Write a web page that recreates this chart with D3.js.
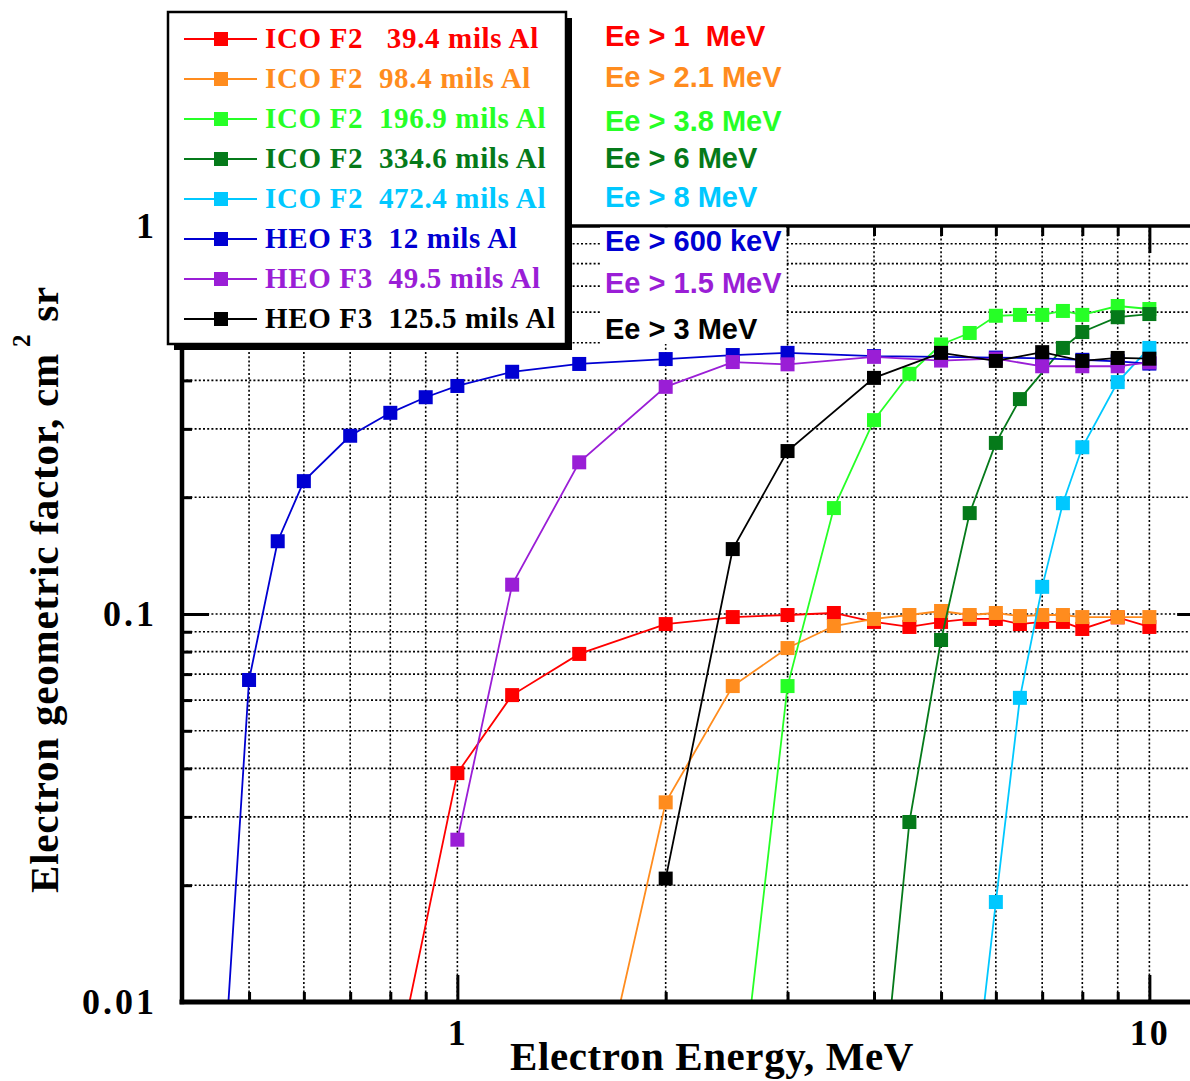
<!DOCTYPE html>
<html>
<head>
<meta charset="utf-8">
<script src="https://cdn.jsdelivr.net/npm/d3@7"></script>
<style>
  html, body { margin: 0; padding: 0; background: #fff; }
  svg { display: block; }
  text { white-space: pre; }
</style>
</head>
<body>
<svg id="chart" width="1190" height="1081"></svg>
<script>
// ---- Data: electron geometric factor (cm^2 sr) vs electron energy (MeV) ----
const ico394E = [0.8, 1, 1.2, 1.5, 2, 2.5, 3, 3.5, 4, 4.5, 5, 5.5, 6, 6.5, 7, 7.5, 8, 9, 10];
const ico394G = [0.0058, 0.0389, 0.0618, 0.0789, 0.0942, 0.0982, 0.0994, 0.1006, 0.0954, 0.0926, 0.0954, 0.0971, 0.0971, 0.0942, 0.0954, 0.0954, 0.0915, 0.0980, 0.0926];

const ico984E = [1.5, 2, 2.5, 3, 3.5, 4, 4.5, 5, 5.5, 6, 6.5, 7, 7.5, 8, 9, 10];
const ico984G = [0.0034, 0.0327, 0.0652, 0.0817, 0.0931, 0.0971, 0.0994, 0.1018, 0.0994, 0.1006, 0.0988, 0.0994, 0.0994, 0.0982, 0.0982, 0.0982];

const ico1969E = [2.5, 3, 3.5, 4, 4.5, 5, 5.5, 6, 6.5, 7, 7.5, 8, 9, 10];
const ico1969G = [0.0038, 0.0652, 0.1875, 0.316, 0.416, 0.495, 0.530, 0.587, 0.590, 0.590, 0.604, 0.590, 0.622, 0.611];

const ico3346E = [4, 4.5, 5, 5.5, 6, 6.5, 7.5, 8, 9, 10];
const ico3346G = [0.0035, 0.0291, 0.0857, 0.182, 0.276, 0.358, 0.485, 0.533, 0.582, 0.593];

const ico4724E = [5.5, 6, 6.5, 7, 7.5, 8, 9, 10];
const ico4724G = [0.0047, 0.0181, 0.0608, 0.1175, 0.193, 0.269, 0.396, 0.485];

const heo12E = [0.45, 0.5, 0.55, 0.6, 0.7, 0.8, 0.9, 1, 1.2, 1.5, 2, 2.5, 3, 4, 5, 6, 7, 8, 9, 10];
const heo12G = [0.0036, 0.0676, 0.154, 0.220, 0.288, 0.330, 0.362, 0.387, 0.421, 0.441, 0.454, 0.465, 0.471, 0.462, 0.460, 0.458, 0.456, 0.452, 0.448, 0.442];

const heo495E = [1, 1.2, 1.5, 2, 2.5, 3, 4, 5, 6, 7, 8, 9, 10];
const heo495G = [0.0262, 0.119, 0.246, 0.385, 0.446, 0.440, 0.460, 0.450, 0.455, 0.435, 0.435, 0.435, 0.445];

const heo1255E = [2, 2.5, 3, 4, 5, 6, 7, 8, 9, 10];
const heo1255G = [0.0208, 0.147, 0.263, 0.406, 0.471, 0.449, 0.473, 0.449, 0.457, 0.455];

const legendLabels = [
  "ICO F2   39.4 mils Al",
  "ICO F2  98.4 mils Al",
  "ICO F2  196.9 mils Al",
  "ICO F2  334.6 mils Al",
  "ICO F2  472.4 mils Al",
  "HEO F3  12 mils Al",
  "HEO F3  49.5 mils Al",
  "HEO F3  125.5 mils Al"
];
const thresholdLabels = [
  "Ee > 1  MeV", "Ee > 2.1 MeV", "Ee > 3.8 MeV", "Ee > 6 MeV",
  "Ee > 8 MeV", "Ee > 600 keV", "Ee > 1.5 MeV", "Ee > 3 MeV"
];

const xTickLabels = [1, 10];
const yTickLabels = ["0.01", "0.1", "1"];
const xTitle = "Electron Energy, MeV";
const yTitle = "Electron geometric factor, cm";

// ---- Styles ----
const colors = ["#ff0000", "#ff8c1e", "#26ff26", "#057a1a", "#00c8ff", "#0000d2", "#9a1ed6", "#000000"];

const series = [
  [ico394E, ico394G], [ico984E, ico984G], [ico1969E, ico1969G], [ico3346E, ico3346G],
  [ico4724E, ico4724G], [heo12E, heo12G], [heo495E, heo495G], [heo1255E, heo1255G]
].map(([e, g], i) => ({
  label: legendLabels[i],
  threshold: thresholdLabels[i],
  color: colors[i],
  points: e.map((v, k) => ({ e: v, g: g[k] }))
}));

// ---- Layout ----
const W = 1190, H = 1081;
const plotLeft = 182, plotTop = 226, plotBottom = 1002;
const decadePx = 692;
const xMin = 0.4, xMax = 12;
const plotRight = plotLeft + decadePx * Math.log10(xMax / xMin);

const x = d3.scaleLog().domain([xMin, xMax]).range([plotLeft, plotRight]);
const y = d3.scaleLog().domain([0.01, 1]).range([plotBottom, plotTop]);

const xMinor = [0.5, 0.6, 0.7, 0.8, 0.9, 2, 3, 4, 5, 6, 7, 8, 9];
const xMajor = [1, 10];
const yMinor = [0.02, 0.03, 0.04, 0.05, 0.06, 0.07, 0.08, 0.09, 0.2, 0.3, 0.4, 0.5, 0.6, 0.7, 0.8, 0.9];
const yMajor = [0.1];

const svg = d3.select("#chart");
svg.append("rect").attr("width", W).attr("height", H).attr("fill", "#fff");

svg.append("defs").append("clipPath").attr("id", "plot-clip")
  .append("rect")
  .attr("x", plotLeft).attr("y", plotTop)
  .attr("width", plotRight - plotLeft).attr("height", plotBottom - plotTop);

// ---- Dotted grid ----
const grid = svg.append("g")
  .attr("stroke", "#000").attr("stroke-width", 1.6)
  .attr("stroke-dasharray", "2,2.2");

grid.selectAll("line.gx").data(xMinor.concat(xMajor)).join("line")
  .attr("class", "gx")
  .attr("x1", d => x(d)).attr("x2", d => x(d))
  .attr("y1", plotTop).attr("y2", plotBottom);

grid.selectAll("line.gy").data(yMinor.concat(yMajor)).join("line")
  .attr("class", "gy")
  .attr("x1", plotLeft).attr("x2", plotRight)
  .attr("y1", d => y(d)).attr("y2", d => y(d));

// ---- Series ----
const line = d3.line().x(d => x(d.e)).y(d => y(d.g));
const plot = svg.append("g").attr("clip-path", "url(#plot-clip)");

const sg = plot.selectAll("g.series").data(series).join("g").attr("class", "series");
sg.append("path")
  .attr("d", d => line(d.points))
  .attr("fill", "none")
  .attr("stroke", d => d.color)
  .attr("stroke-width", 1.8);

const M = 14;
sg.selectAll("rect").data(d => d.points.map(p => ({ ...p, color: d.color }))).join("rect")
  .attr("x", d => x(d.e) - M / 2)
  .attr("y", d => y(d.g) - M / 2)
  .attr("width", M).attr("height", M)
  .attr("fill", d => d.color);

// ---- Axes ticks ----
function styleTicks(g, w) {
  g.select(".domain").remove();
  g.selectAll(".tick line").attr("stroke", "#000").attr("stroke-width", w);
  g.selectAll(".tick text").remove();
}
const minorLen = 10, majorLen = 27;

svg.append("g").attr("transform", `translate(0,${plotBottom})`)
  .call(d3.axisBottom(x).tickValues(xMinor).tickSize(-minorLen).tickSizeOuter(0))
  .call(g => styleTicks(g, 3));
svg.append("g").attr("transform", `translate(0,${plotBottom})`)
  .call(d3.axisBottom(x).tickValues(xMajor).tickSize(-majorLen).tickSizeOuter(0))
  .call(g => styleTicks(g, 3));
svg.append("g").attr("transform", `translate(0,${plotTop})`)
  .call(d3.axisTop(x).tickValues(xMinor).tickSize(-minorLen).tickSizeOuter(0))
  .call(g => styleTicks(g, 3));
svg.append("g").attr("transform", `translate(0,${plotTop})`)
  .call(d3.axisTop(x).tickValues(xMajor).tickSize(-majorLen).tickSizeOuter(0))
  .call(g => styleTicks(g, 3));
svg.append("g").attr("transform", `translate(${plotLeft},0)`)
  .call(d3.axisLeft(y).tickValues(yMinor).tickSize(-minorLen).tickSizeOuter(0))
  .call(g => styleTicks(g, 3));
svg.append("g").attr("transform", `translate(${plotLeft},0)`)
  .call(d3.axisLeft(y).tickValues(yMajor).tickSize(-majorLen).tickSizeOuter(0))
  .call(g => styleTicks(g, 3));
svg.append("g").attr("transform", `translate(${plotRight},0)`)
  .call(d3.axisRight(y).tickValues(yMinor).tickSize(-minorLen).tickSizeOuter(0))
  .call(g => styleTicks(g, 3));
svg.append("g").attr("transform", `translate(${plotRight},0)`)
  .call(d3.axisRight(y).tickValues(yMajor).tickSize(-majorLen).tickSizeOuter(0))
  .call(g => styleTicks(g, 3));

// ---- Frame ----
const frame = svg.append("g").attr("stroke", "#000").attr("stroke-linecap", "square");
frame.append("line").attr("x1", plotLeft).attr("x2", plotRight).attr("y1", plotBottom).attr("y2", plotBottom).attr("stroke-width", 5);
frame.append("line").attr("x1", plotLeft).attr("x2", plotLeft).attr("y1", plotTop).attr("y2", plotBottom).attr("stroke-width", 4.5);
frame.append("line").attr("x1", plotLeft).attr("x2", plotRight).attr("y1", plotTop).attr("y2", plotTop).attr("stroke-width", 3.5);
frame.append("line").attr("x1", plotRight).attr("x2", plotRight).attr("y1", plotTop).attr("y2", plotBottom).attr("stroke-width", 4);

// ---- Tick labels ----
const serif = "'Liberation Serif', 'Times New Roman', serif";
const sans = "'Liberation Sans', Arial, sans-serif";

svg.append("g").attr("transform", `translate(0,${plotBottom})`)
  .call(d3.axisBottom(x).tickValues(xTickLabels).tickSize(0).tickPadding(17).tickFormat(d3.format("d")))
  .call(g => g.select(".domain").remove())
  .call(g => g.selectAll("text").attr("font-family", serif).attr("font-weight", "bold")
    .attr("font-size", 36).attr("letter-spacing", 2).attr("fill", "#000"));

svg.append("g").attr("transform", `translate(${plotLeft},0)`)
  .call(d3.axisLeft(y).tickValues([0.01, 0.1, 1]).tickSize(0).tickPadding(25)
    .tickFormat((d, i) => yTickLabels[i]))
  .call(g => g.select(".domain").remove())
  .call(g => g.selectAll("text").attr("font-family", serif).attr("font-weight", "bold")
    .attr("font-size", 36).attr("letter-spacing", 3).attr("fill", "#000"));

// ---- Axis titles ----
svg.append("text")
  .attr("x", 510).attr("y", 1070)
  .attr("font-family", serif).attr("font-weight", "bold").attr("font-size", 41)
  .attr("letter-spacing", 0.6)
  .text(xTitle);

const yt = svg.append("text")
  .attr("transform", "translate(58,893) rotate(-90)")
  .attr("font-family", serif).attr("font-weight", "bold").attr("font-size", 41)
  .attr("letter-spacing", 0.8);
yt.append("tspan").text(yTitle);
yt.append("tspan").attr("dx", 6).attr("dy", -28).attr("font-size", 25).text("2");
yt.append("tspan").attr("dx", 12).attr("dy", 28).text("sr");

// ---- Threshold annotations ----
const annBaselines = [46, 87, 131, 168, 207, 251, 293, 339];
svg.append("rect").attr("x", 600).attr("y", plotTop + 1.5).attr("width", 186).attr("height", 344 - plotTop - 1.5).attr("fill", "#fff");
svg.append("g").selectAll("text").data(series).join("text")
  .attr("x", 605).attr("y", (d, i) => annBaselines[i])
  .attr("font-family", sans).attr("font-weight", "bold").attr("font-size", 29)
  .attr("fill", d => d.color)
  .text(d => d.threshold);

// ---- Legend ----
const lg = svg.append("g");
lg.append("rect").attr("x", 174).attr("y", 18).attr("width", 398).attr("height", 332).attr("fill", "#000");
lg.append("rect").attr("x", 168).attr("y", 12).attr("width", 398).attr("height", 332)
  .attr("fill", "#fff").attr("stroke", "#000").attr("stroke-width", 2.5);

const rows = lg.selectAll("g.row").data(series).join("g").attr("class", "row")
  .attr("transform", (d, i) => `translate(0,${48 + 40 * i})`);
rows.append("line").attr("x1", 184).attr("x2", 257).attr("y1", -9).attr("y2", -9)
  .attr("stroke", d => d.color).attr("stroke-width", 1.8);
rows.append("rect").attr("x", 221 - M / 2).attr("y", -9 - M / 2).attr("width", M).attr("height", M)
  .attr("fill", d => d.color);
rows.append("text").attr("x", 265).attr("y", 0)
  .attr("font-family", serif).attr("font-weight", "bold").attr("font-size", 29)
  .attr("letter-spacing", 0.65)
  .attr("fill", d => d.color)
  .text(d => d.label);
</script>
</body>
</html>
